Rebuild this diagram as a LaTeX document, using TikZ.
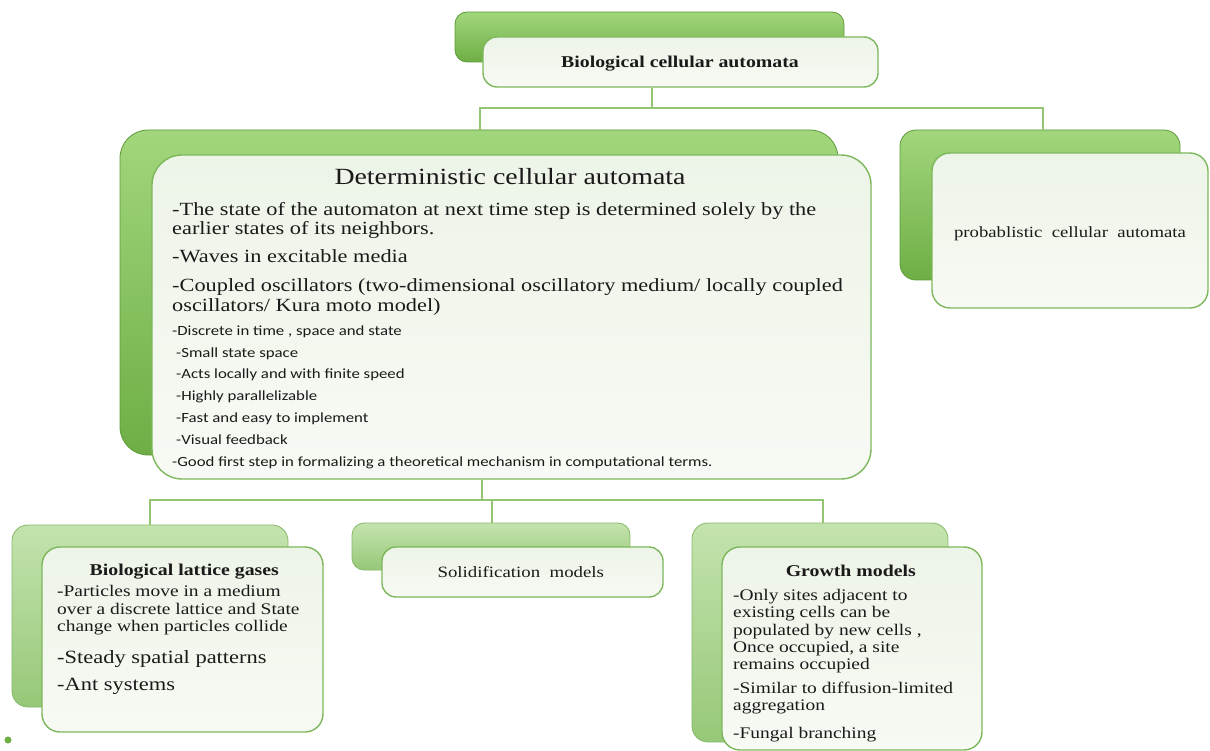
\documentclass[tikz,border=0pt]{standalone}
\usepackage{fontspec}
\setmainfont{Liberation Serif}[FakeStretch=1.2]
\newfontfamily\carlitofont{Carlito}[FakeStretch=1.2]

\definecolor{grnTop}{HTML}{A2D67C}
\definecolor{grnBot}{HTML}{6EAE45}
\definecolor{grnEdge}{HTML}{5E9A3A}
\definecolor{paleTop}{HTML}{C4E3AE}
\definecolor{paleBot}{HTML}{96C878}
\definecolor{paleEdge}{HTML}{86B86A}
\definecolor{cardFill}{HTML}{EDF4E8}
\definecolor{cardLow}{HTML}{F7FAF4}
\definecolor{cardEdge}{HTML}{7DB75C}
\definecolor{linkGreen}{HTML}{93C572}
\definecolor{inkText}{HTML}{1A1A1A}

\tikzset{
  backsat/.style={draw=grnEdge, line width=0.8pt, top color=grnTop, bottom color=grnBot,
    inner sep=0pt, rounded corners=12pt},
  backpale/.style={draw=paleEdge, line width=0.8pt, top color=paleTop, bottom color=paleBot,
    inner sep=0pt, rounded corners=12pt},
  card/.style={draw=cardEdge, line width=1.4pt, top color=cardFill, bottom color=cardLow,
    inner sep=0pt, rounded corners=14pt},
  link/.style={draw=linkGreen, line width=2.5pt},
  lt/.style={anchor=base west, inner sep=0pt, text=inkText},
  ct/.style={anchor=base, inner sep=0pt, text=inkText},
  body/.style={font=\fontsize{18.6}{21}\selectfont},
  small/.style={font=\carlitofont\fontsize{14}{16}\selectfont},
  boxtxt/.style={font=\fontsize{16.2}{18}\selectfont},
  bigtxt/.style={font=\fontsize{18.7}{21}\selectfont},
  headb/.style={font=\bfseries\fontsize{16.5}{18}\selectfont},
}

\begin{document}
\begin{tikzpicture}[x=1pt,y=-1pt]
\useasboundingbox (0,0) rectangle (1210,751);

% junction points of the tree
\coordinate (hubTop) at (652,108);
\coordinate (dL) at (480,108);
\coordinate (dR) at (1043,108);
\coordinate (hubBot) at (482,500);
\coordinate (bL) at (150,500);
\coordinate (bM) at (492,500);
\coordinate (bR) at (823,500);

% back plates (placed first so the links can be laid between them and the cards)
\node[backsat, minimum width=389, minimum height=50] (topB) at (649.5,37) {};
\node[backsat, rounded corners=28pt, minimum width=718, minimum height=325] (detB) at (479,292.5) {};
\node[backsat, rounded corners=16pt, minimum width=280, minimum height=150] (probB) at (1040,205) {};
\node[backpale, rounded corners=16pt, minimum width=276, minimum height=182] (latB) at (150,616) {};
\node[backpale, minimum width=278, minimum height=47] (solB) at (491,546.5) {};
\node[backpale, rounded corners=16pt, minimum width=256, minimum height=219] (growB) at (820,632.5) {};

% front cards
\node[card, minimum width=395, minimum height=50] (topF) at (680.5,62) {};
\node[card, rounded corners=30pt, minimum width=719, minimum height=324] (detF) at (511.5,317) {};
\node[card, rounded corners=18pt, minimum width=276, minimum height=155] (probF) at (1070,230.5) {};
\node[card, rounded corners=18pt, minimum width=281, minimum height=185] (latF) at (182.5,639.5) {};
\node[card, minimum width=281, minimum height=50] (solF) at (522.5,572) {};
\node[card, rounded corners=18pt, minimum width=260, minimum height=203] (growF) at (852,648.5) {};

% connectors
\draw[link] (hubTop |- topF.south) -- (hubTop);
\draw[link] (dL |- detB.north) -- (dL) -- (dR) -- (dR |- probB.north);
\draw[link] (hubBot |- detF.south) -- (hubBot);
\draw[link] (bL |- latB.north) -- (bL) -- (bR) -- (bR |- growB.north);
\draw[link] (bM) -- (bM |- solB.north);

% root title
\node[ct, headb] (tRoot) at (680,67.7) {Biological cellular automata};

% deterministic card
\node[ct, font=\fontsize{23.2}{26}\selectfont] (tDet) at (510,185) {Deterministic cellular automata};
\node[lt, body] (d1a) at (172,215.5) {-The state of the automaton at next time step is determined solely by the};
\node[lt, body] (d1b) at (172,235) {earlier states of its neighbors.};
\node[lt, body] (d2) at (172,263) {-Waves in excitable media};
\node[lt, body] (d3a) at (172,291.5) {-Coupled oscillators (two-dimensional oscillatory medium/ locally coupled};
\node[lt, body] (d3b) at (172,311.5) {oscillators/ Kura moto model)};
\node[lt, small] (s1) at (172,335) {-Discrete in time , space and state};
\node[lt, small] (s2) at (176,357) {-Small state space};
\node[lt, small] (s3) at (176,378.5) {-Acts locally and with finite speed};
\node[lt, small] (s4) at (176,400) {-Highly parallelizable};
\node[lt, small] (s5) at (176,422) {-Fast and easy to implement};
\node[lt, small] (s6) at (176,444.5) {-Visual feedback};
\node[lt, small] (s7) at (172,466) {-Good first step in formalizing a theoretical mechanism in computational terms.};

% probabilistic card
\node[ct, font=\fontsize{15.6}{18}\selectfont] (tProb) at (1070,237.7) {probablistic\ \ cellular\ \ automata};

% lattice gases card
\node[ct, headb] (tLat) at (184.3,575) {Biological lattice gases};
\node[lt, boxtxt] (l1a) at (57,596.7) {-Particles move in a medium};
\node[lt, boxtxt] (l1b) at (57,614.3) {over a discrete lattice and State};
\node[lt, boxtxt] (l1c) at (57,631.7) {change when particles collide};
\node[lt, bigtxt] (l2) at (57,663) {-Steady spatial patterns};
\node[lt, bigtxt] (l3) at (57,690) {-Ant systems};

% solidification card
\node[ct, font=\fontsize{15.7}{18}\selectfont] (tSol) at (520.8,577) {Solidification\ \ models};

% growth card
\node[ct, headb] (tGrow) at (850.8,576.7) {Growth models};
\node[lt, boxtxt] (g1a) at (733,600) {-Only sites adjacent to};
\node[lt, boxtxt] (g1b) at (733,617.5) {existing cells can be};
\node[lt, boxtxt] (g1c) at (733,635) {populated by new cells ,};
\node[lt, boxtxt] (g1d) at (733,652) {Once occupied, a site};
\node[lt, boxtxt] (g1e) at (733,669) {remains occupied};
\node[lt, boxtxt] (g2a) at (733,693.5) {-Similar to diffusion-limited};
\node[lt, boxtxt] (g2b) at (733,710) {aggregation};
\node[lt, boxtxt] (g3) at (733,738) {-Fungal branching};

% bullet mark at the lower left
\node[circle, fill=grnBot, minimum size=7, inner sep=0pt] (dot) at (8,740) {};
\end{tikzpicture}
\end{document}
